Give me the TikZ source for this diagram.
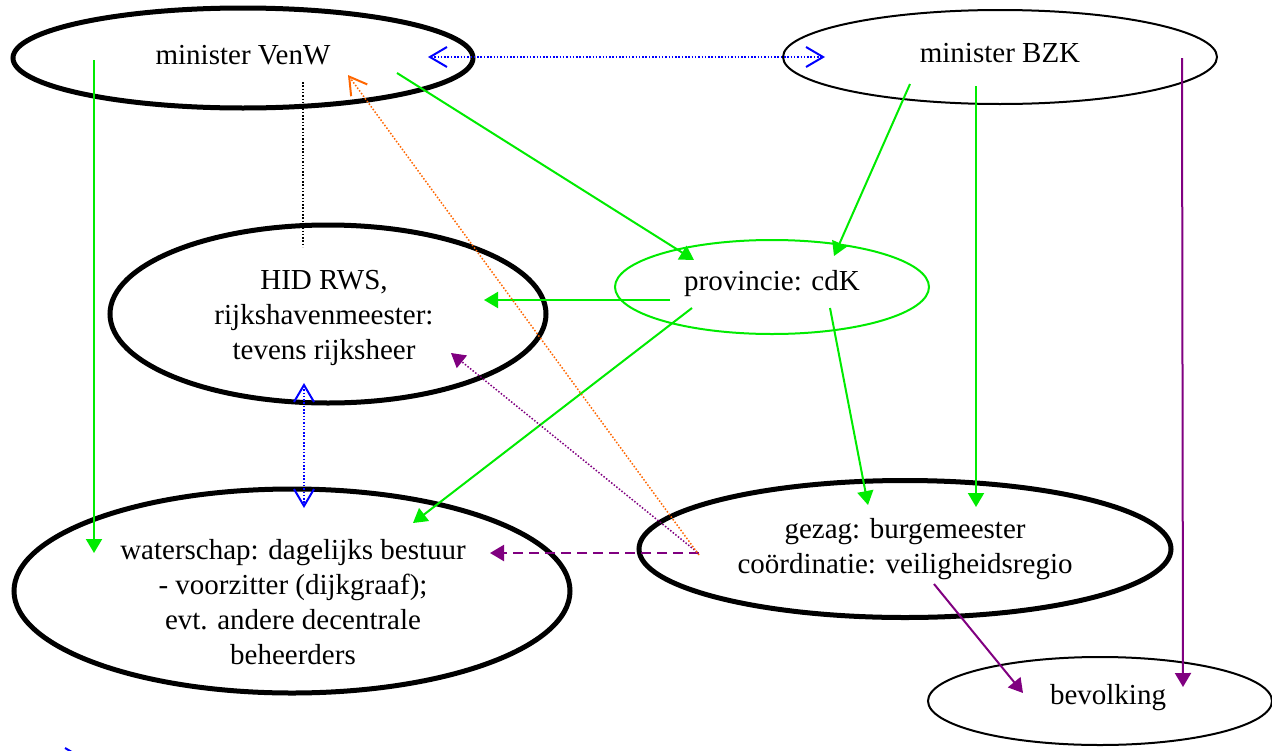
\documentclass[tikz,border=0pt]{standalone}
\usepackage{fontspec}
\setmainfont{Liberation Serif}
\usetikzlibrary{shapes.geometric,arrows.meta,calc}
\definecolor{lgreen}{RGB}{0,235,0}
\definecolor{dpurple}{RGB}{128,0,128}
\definecolor{lblue}{RGB}{0,0,255}
\definecolor{lorange}{RGB}{255,102,0}
\begin{document}
\begin{tikzpicture}[x=1pt,y=-1pt,
  every node/.style={font=\fontsize{29}{35}\selectfont},
  ell/.style={ellipse, draw, inner sep=0pt},
  thickell/.style={ell, line width=5pt},
  thinell/.style={ell, line width=2pt},
  txt/.style={align=center, inner sep=0pt},
  filltip/.style={-{Triangle[length=14pt,width=16pt]}},
  garrow/.style={draw=lgreen, line width=2pt, filltip},
  parrow/.style={draw=dpurple, line width=2pt, filltip},
  dots/.style={line width=1.5pt, dash pattern=on 1.5pt off 1.8pt},
  barb/.tip={Straight Barb[length=17pt,width=20pt,line width=2pt]},
]
\useasboundingbox (0,0) rectangle (1272,750);

% ellipses
\node[thickell, minimum width=460pt, minimum height=100pt] (venw) at (243,58) {};
\node[txt] (venwT) at (243,55) {minister VenW};
\node[thinell, minimum width=434pt, minimum height=94pt] (bzk) at (1000,57) {};
\node[txt] (bzkT) at (1000,53) {minister BZK};
\node[thickell, minimum width=436pt, minimum height=178pt] (hid) at (328,314) {};
\node[txt] (hidT) at (324,318) {HID RWS,\\rijkshavenmeester:\\tevens rijksheer};
\node[thinell, draw=lgreen, minimum width=314pt, minimum height=94pt] (prov) at (772,287) {};
\node[txt] (provT) at (772,284) {provincie: cdK};
\node[thickell, minimum width=556pt, minimum height=204pt] (water) at (292,591) {};
\node[txt] (waterT) at (293,602) {waterschap: dagelijks bestuur\\- voorzitter (dijkgraaf);\\evt. andere decentrale\\beheerders};
\node[thickell, minimum width=532pt, minimum height=137pt] (gezag) at (905,549) {};
\node[txt] (gezagT) at (905,549) {gezag: burgemeester\\coördinatie: veiligheidsregio};
\node[thinell, minimum width=344pt, minimum height=88pt] (bev) at (1100,701) {};
\node[txt] (bevT) at (1108,698) {bevolking};

% green arrows
\draw[garrow] ($(venw)+(-149,2)$) -- ($(water)+(-198,-38)$);
\draw[garrow] ($(venw)+(154,15)$) -- ($(prov)+(-78,-27)$);
\draw[garrow] ($(bzk)+(-90,27)$) -- ($(prov)+(62,-31)$);
\draw[garrow] ($(bzk)+(-24,29)$) -- ($(gezag)+(71,-42)$);
\draw[garrow] ($(prov)+(-102,13)$) -- ($(hid)+(156,-14)$);
\draw[garrow] ($(prov)+(-80,21)$) -- ($(water)+(121,-68)$);
\draw[garrow] ($(prov)+(58,21)$) -- ($(gezag)+(-37,-44)$);

% purple arrows
\draw[parrow] ($(bzk)+(182,1)$) -- ($(bev)+(83,-14)$);
\draw[parrow] ($(gezag)+(29,35)$) -- ($(bev)+(-77,-8)$);
\draw[parrow, line width=2.2pt, dash pattern=on 10pt off 6pt] ($(gezag)+(-206,4)$) -- ($(water)+(198,-38)$);
\draw[draw=dpurple, dots, filltip] ($(gezag)+(-208,3)$) -- ($(hid)+(123,39)$);

% orange dotted
\draw[draw=lorange, dots, -barb] ($(gezag)+(-206,6)$) -- ($(venw)+(105,17)$);

% black dotted line
\draw[dots] ($(venw)+(60,24)$) -- ($(hid)+(-25,-67)$);

% blue dotted double arrows
\draw[draw=lblue, dots, barb-barb] ($(venw)+(185,-1)$) -- ($(bzk)+(-175,0)$);
\draw[draw=lblue, dots, barb-barb] ($(hid)+(-24,69)$) -- ($(water)+(12,-83)$);

% legend (clipped at the bottom edge)
\begin{scope}
\clip (0,0) rectangle (1272,750);
\coordinate (legA) at (30,758);
\coordinate (legB) at (84,758);
\draw[draw=lblue, dots, -barb] (legA) -- (legB);
\end{scope}
\end{tikzpicture}
\end{document}
